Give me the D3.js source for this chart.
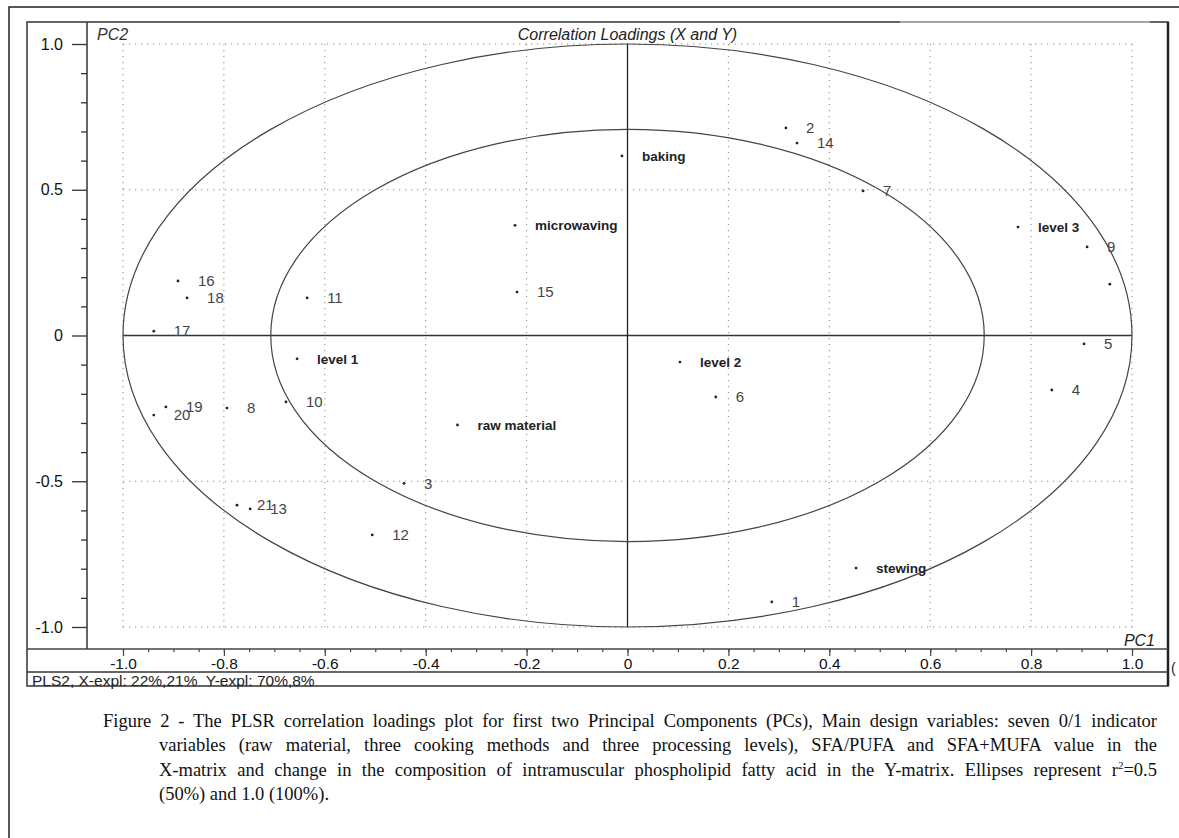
<!DOCTYPE html>
<html>
<head>
<meta charset="utf-8">
<script src="https://cdn.jsdelivr.net/npm/d3@7"></script>
<style>
  body { margin: 0; background: #fff; }
  #wrap { position: relative; width: 1179px; height: 838px; overflow: hidden; }
  svg { position: absolute; left: 0; top: 0; }
  .cap { position: absolute; font-family: "Liberation Serif", "Times New Roman", serif; font-size: 18.5px; color: #111; line-height: 24.3px; }
  .cap div { white-space: nowrap; }
  .cap .j { text-align: justify; text-align-last: justify; white-space: normal; }
  .cap sup { font-size: 11px; line-height: 0; vertical-align: 7px; }
</style>
</head>
<body>
<div id="wrap"></div>
<script>
// loadings
const labels = ["baking", "microwaving", "stewing", "raw material", "level 1", "level 2", "level 3",
  "1", "2", "3", "4", "5", "6", "7", "8", "9", "10", "11", "12", "13", "14", "15", "16", "17", "18", "19", "20", "21", ""];
const pc1 = [-0.011, -0.223, 0.453, -0.337, -0.655, 0.104, 0.774,
  0.286, 0.314, -0.443, 0.841, 0.905, 0.175, 0.467, -0.794, 0.911, -0.677, -0.635, -0.506, -0.748, 0.336, -0.219, -0.891, -0.939, -0.873, -0.915, -0.939, -0.774, 0.956];
const pc2 = [0.616, 0.378, -0.798, -0.307, -0.080, -0.091, 0.372,
  -0.914, 0.712, -0.507, -0.187, -0.029, -0.211, 0.496, -0.249, 0.304, -0.228, 0.129, -0.684, -0.595, 0.660, 0.149, 0.187, 0.015, 0.129, -0.245, -0.273, -0.582, 0.176];
const designVars = ["baking", "microwaving", "stewing", "raw material", "level 1", "level 2", "level 3"];

const xTicks = [-1.0, -0.8, -0.6, -0.4, -0.2, 0, 0.2, 0.4, 0.6, 0.8, 1.0];
const yTicks = [-1.0, -0.5, 0, 0.5, 1.0];
const ellipseR2 = [1.0, 0.5];

const W = 1179, H = 838;
const wrap = d3.select("#wrap");
const svg = wrap.append("svg").attr("width", W).attr("height", H);

const x = d3.scaleLinear().domain([-1, 1]).range([123, 1132]);
const y = d3.scaleLinear().domain([-1, 1]).range([627, 44]);
const font = "'Liberation Sans', Arial, sans-serif";

// outer page border (only top and left visible)
svg.append("rect").attr("x", 9).attr("y", 7).attr("width", W + 20).attr("height", H + 20)
  .attr("fill", "none").attr("stroke", "#222").attr("stroke-width", 1.5);

// chart frame
const fx0 = 27, fy0 = 22, fx1 = 1168, fy1 = 686;
svg.append("rect").attr("x", fx0).attr("y", fy0).attr("width", fx1 - fx0).attr("height", fy1 - fy0)
  .attr("fill", "#fff").attr("stroke", "#333").attr("stroke-width", 1.5);
svg.append("line").attr("x1", fx1).attr("x2", fx1).attr("y1", fy0).attr("y2", fy1)
  .attr("stroke", "#222").attr("stroke-width", 2.5);
svg.append("line").attr("x1", 900).attr("x2", 1150).attr("y1", fy0).attr("y2", fy0)
  .attr("stroke", "#bbb").attr("stroke-width", 1.5);
// status bar separator
svg.append("line").attr("x1", fx0).attr("x2", fx1).attr("y1", 672).attr("y2", 672)
  .attr("stroke", "#333").attr("stroke-width", 1.5);
svg.append("text").attr("x", 1171).attr("y", 673).attr("font-family", font).attr("font-size", 14)
  .attr("fill", "#222").text("(");

// dotted grid
const g = svg.append("g");
g.selectAll(".vg").data(xTicks.filter(d => d !== 0)).join("line")
  .attr("x1", d => x(d)).attr("x2", d => x(d)).attr("y1", y(1)).attr("y2", y(-1))
  .attr("stroke", "#888").attr("stroke-width", 1).attr("stroke-dasharray", "1.2,4.8");
g.selectAll(".hg").data(yTicks.filter(d => d !== 0)).join("line")
  .attr("x1", x(-1)).attr("x2", x(1)).attr("y1", d => y(d)).attr("y2", d => y(d))
  .attr("stroke", "#888").attr("stroke-width", 1).attr("stroke-dasharray", "1.2,4.8");

// solid cross lines through the origin
g.append("line").attr("x1", x(-1)).attr("x2", x(1)).attr("y1", y(0)).attr("y2", y(0))
  .attr("stroke", "#333").attr("stroke-width", 1.5);
g.append("line").attr("x1", x(0)).attr("x2", x(0)).attr("y1", y(1)).attr("y2", y(-1))
  .attr("stroke", "#222").attr("stroke-width", 1.3);

// ellipses r^2 = 0.5 and 1.0
g.selectAll(".ell").data(ellipseR2).join("ellipse")
  .attr("cx", x(0)).attr("cy", y(0))
  .attr("rx", d => x(Math.sqrt(d)) - x(0)).attr("ry", d => y(0) - y(Math.sqrt(d)))
  .attr("fill", "none").attr("stroke", "#444").attr("stroke-width", 1.2);

// y axis
const yMinor = d3.range(-10, 11).map(i => i / 10);
const yAx = svg.append("g").attr("transform", "translate(87,0)");
yAx.append("line").attr("x1", 0).attr("x2", 0).attr("y1", fy0).attr("y2", 649)
  .attr("stroke", "#333").attr("stroke-width", 1.5);
yAx.call(d3.axisLeft(y).tickValues(yMinor.filter(d => !yTicks.some(t => Math.abs(t - d) < 1e-9)))
  .tickSize(6).tickFormat(""));
yAx.append("g").call(d3.axisLeft(y).tickValues(yTicks).tickSize(15).tickPadding(9)
  .tickFormat(d => d === 0 ? "0" : d.toFixed(1)));
yAx.selectAll(".domain").remove();
yAx.selectAll(".tick line").attr("stroke", "#333").attr("stroke-width", 1.3);
yAx.selectAll(".tick text").attr("font-family", font).attr("font-size", 16).attr("fill", "#111");

// x axis
const xMinor = d3.range(-20, 21).map(i => i / 20);
const xAx = svg.append("g").attr("transform", "translate(0,649)");
xAx.append("line").attr("x1", fx0).attr("x2", fx1).attr("y1", 0).attr("y2", 0)
  .attr("stroke", "#444").attr("stroke-width", 1.5);
xAx.call(d3.axisBottom(x).tickValues(xMinor).tickSize(3).tickFormat(""));
xAx.append("g").call(d3.axisBottom(x).tickValues(xTicks).tickSize(7).tickPadding(2)
  .tickFormat(d => d === 0 ? "0" : d.toFixed(1)));
xAx.selectAll(".domain").remove();
xAx.selectAll(".tick line").attr("stroke", "#444").attr("stroke-width", 1.2);
xAx.selectAll(".tick text").attr("font-family", font).attr("font-size", 15.5).attr("fill", "#111");

// titles
svg.append("text").attr("x", x(0)).attr("y", 40).attr("text-anchor", "middle")
  .attr("font-family", font).attr("font-size", 16).attr("font-style", "italic").attr("fill", "#222")
  .text("Correlation Loadings (X and Y)");
svg.append("text").attr("x", 97).attr("y", 40).attr("font-family", font).attr("font-size", 16)
  .attr("font-style", "italic").attr("fill", "#333").text("PC2");
svg.append("text").attr("x", 1155).attr("y", 646).attr("text-anchor", "end").attr("font-family", font)
  .attr("font-size", 16).attr("font-style", "italic").attr("fill", "#222").text("PC1");
svg.append("text").attr("x", 32).attr("y", 686).attr("font-family", font).attr("font-size", 15.5)
  .attr("fill", "#222").style("white-space", "pre").text("PLS2, X-expl: 22%,21%  Y-expl: 70%,8%");

// points
const pts = labels.map((l, i) => ({ label: l, pc1: pc1[i], pc2: pc2[i], design: designVars.includes(l) }));
const pg = svg.append("g");
pg.selectAll("circle").data(pts).join("circle")
  .attr("cx", d => x(d.pc1)).attr("cy", d => y(d.pc2)).attr("r", 1.4).attr("fill", "#222");
pg.selectAll("text").data(pts).join("text")
  .attr("x", d => x(d.pc1) + 20).attr("y", d => y(d.pc2)).attr("dy", "0.35em")
  .attr("font-family", font)
  .attr("font-size", d => d.design ? 13.5 : 15)
  .attr("font-weight", d => d.design ? "bold" : "normal")
  .attr("fill", d => d.design ? "#222" : "#444")
  .text(d => d.label);

// caption
const cap = wrap.append("div").attr("class", "cap").style("left", "103px").style("top", "709px").style("width", "1054px");
cap.append("div").attr("class", "j")
  .text("Figure 2 - The PLSR correlation loadings plot for first two Principal Components (PCs), Main design variables: seven 0/1 indicator");
const indent = cap.append("div").style("margin-left", "56px");
indent.append("div").attr("class", "j")
  .text("variables (raw material, three cooking methods and three processing levels), SFA/PUFA and SFA+MUFA value in the");
indent.append("div").attr("class", "j")
  .html("X-matrix and change in the composition of intramuscular phospholipid fatty acid in the Y-matrix. Ellipses represent r<sup>2</sup>=0.5");
indent.append("div").text("(50%) and 1.0 (100%).");
</script>
</body>
</html>
